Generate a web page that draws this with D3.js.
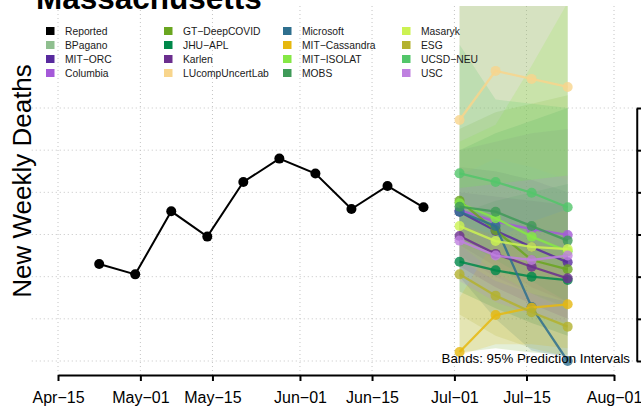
<!DOCTYPE html>
<html><head><meta charset="utf-8">
<script src="https://cdn.jsdelivr.net/npm/d3@7"></script>
<style>
body{margin:0;background:#fff}
svg{display:block}
text{font-family:"Liberation Sans",Arial,Helvetica,sans-serif}
</style>
</head><body>
<svg id="chart" width="641" height="413"></svg>
<script>
// ---------- data ----------
const reportedDates = ["2022-04-23","2022-04-30","2022-05-07","2022-05-14","2022-05-21","2022-05-28","2022-06-04","2022-06-11","2022-06-18","2022-06-25"];
const reportedValues = [46.0, 41.1, 71.0, 59.0, 84.9, 96.0, 88.9, 72.1, 83.0, 72.9];

const forecastDates = ["2022-07-02","2022-07-09","2022-07-16","2022-07-23"];

const modelNames = ["BPagano","MIT\u2212ORC","Columbia","GT\u2212DeepCOVID","JHU\u2212APL","Karlen","LUcompUncertLab","Microsoft","MIT\u2212Cassandra","MIT\u2212ISOLAT","MOBS","Masaryk","ESG","UCSD\u2212NEU","USC"];
const modelColors = ["#8FBF8F","#582A9E","#A559D9","#6AA620","#00884A","#6B2E8E","#F8D58C","#2E6F8E","#E6B80F","#85E845","#3F9A58","#CCF252","#B3B22F","#52C66A","#BF80E0"];

// point forecasts (median), one list per model in modelNames order
const forecastMedian = [
  [],
  [70.8, 61.8, 54.1, 46.8],
  [71.6, 66.1, 62.5, 59.8],
  [76.0, 62.0, 47.9, 43.5],
  [47.1, 43.0, 40.0, 38.4],
  [59.3, 50.8, 44.7, 39.2],
  [114.3, 137.6, 133.8, 130.0],
  [70.8, 64.0, 25.6, 0.0],
  [4.3, 21.8, 25.3, 26.9],
  [74.8, 67.7, 59.0, 52.0],
  [73.2, 70.8, 64.0, 57.1],
  [64.0, 56.9, 54.1, 53.1],
  [41.1, 31.0, 23.1, 16.3],
  [89.0, 84.9, 79.8, 72.9],
  [57.1, 50.0, 47.9, 50.0]
];
// 95% prediction interval bounds
const forecastLower = [
  [],
  [55, 45, 35, 28],
  [50, 40, 32, 25],
  [4, 6, 4, 3],
  [33, 25, 18, 12],
  [45, 35, 27, 20],
  [88, 96, 92, 86],
  [40, 20, 5, 1.5],
  [2.8, 8, 8, 6],
  [55, 42, 32, 24],
  [58, 48, 38, 28],
  [48, 38, 32, 28],
  [22, 12, 6, 2],
  [66, 58, 50, 42],
  [38, 28, 22, 18]
];
const forecastUpper = [
  [],
  [92, 90, 86, 80],
  [100, 104, 108, 110],
  [110, 118, 122, 126],
  [70, 76, 80, 84],
  [80, 78, 76, 74],
  [170, 170, 170, 170],
  [170, 170, 170, 170],
  [30, 58, 66, 72],
  [104, 112, 140, 170],
  [100, 108, 114, 120],
  [170, 170, 170, 170],
  [64, 60, 56, 52],
  [150, 124, 122, 120],
  [82, 84, 86, 88]
];

const xTickDates = ["2022-04-15","2022-05-01","2022-05-15","2022-06-01","2022-06-15","2022-07-01","2022-07-15","2022-08-01"];
const xTickLabels = ["Apr\u221215","May\u221201","May\u221215","Jun\u221201","Jun\u221215","Jul\u221201","Jul\u221215","Aug\u221201"];
const yTickValues = [0, 20, 40, 60, 80, 100, 120];

const legendNames = ["Reported"].concat(modelNames);
const legendColors = ["#000000"].concat(modelColors);

const titleText = "Massachusetts";
const yLabelText = "New Weekly Deaths";
const noteText = "Bands: 95% Prediction Intervals";

// ---------- layout ----------
const svg = d3.select("#chart");
const parse = d3.utcParse("%Y-%m-%d");

const x = d3.scaleUtc()
  .domain([parse(xTickDates[0]), parse(xTickDates[xTickDates.length-1])])
  .range([58, 614]);
const y = d3.scaleLinear().domain([0, 120]).range([361, 108]);

const span = 614 - 58;
const plotLeft = 58 - 0.04 * span, plotRight = 614 + 0.04 * span;
const plotTop = 6, plotBottom = 375;

svg.append("defs").append("clipPath").attr("id","plotclip")
  .append("rect").attr("x", plotLeft).attr("y", plotTop)
  .attr("width", plotRight - plotLeft).attr("height", plotBottom - plotTop);

// grid
const grid = svg.append("g").attr("stroke","#c4c4c4").attr("stroke-width",1).attr("stroke-dasharray","1,3");
grid.selectAll("line.v").data(xTickDates).join("line")
  .attr("x1", d => x(parse(d))).attr("x2", d => x(parse(d)))
  .attr("y1", plotTop).attr("y2", plotBottom);
grid.selectAll("line.h").data(yTickValues).join("line")
  .attr("x1", plotLeft - 4).attr("x2", plotRight)
  .attr("y1", d => y(d)).attr("y2", d => y(d));

// bands
const fDates = forecastDates.map(parse);
const area = d3.area()
  .x((d,i) => x(fDates[i]))
  .y0(d => y(d[0])).y1(d => y(d[1]));
const bandG = svg.append("g").attr("clip-path","url(#plotclip)");
modelNames.forEach((m, k) => {
  if (!forecastLower[k].length) return;
  const pts = forecastLower[k].map((lo, i) => [lo, forecastUpper[k][i]]);
  bandG.append("path").attr("d", area(pts))
    .attr("fill", modelColors[k]).attr("fill-opacity", 0.18).attr("stroke","none");
});

// reported
const line = d3.line().x(d => x(d[0])).y(d => y(d[1]));
const rep = reportedDates.map((d,i) => [parse(d), reportedValues[i]]);
svg.append("path").attr("d", line(rep)).attr("fill","none").attr("stroke","#000").attr("stroke-width",2);
svg.append("g").selectAll("circle").data(rep).join("circle")
  .attr("cx", d => x(d[0])).attr("cy", d => y(d[1])).attr("r", 5).attr("fill","#000");

// forecasts
const fg = svg.append("g").attr("clip-path","url(#plotclip)");
modelNames.forEach((m, k) => {
  if (!forecastMedian[k].length) return;
  const pts = forecastMedian[k].map((v,i) => [fDates[i], v]);
  fg.append("path").attr("d", line(pts)).attr("fill","none")
    .attr("stroke", modelColors[k]).attr("stroke-width", 2.3).attr("stroke-opacity", 0.85);
  fg.append("g").selectAll("circle").data(pts).join("circle")
    .attr("cx", d => x(d[0])).attr("cy", d => y(d[1])).attr("r", 5)
    .attr("fill", modelColors[k]).attr("fill-opacity", 0.8);
});

// x axis
const xAxis = d3.axisBottom(x)
  .tickValues(xTickDates.map(parse))
  .tickFormat((d,i) => xTickLabels[i])
  .tickSize(6).tickSizeOuter(0);
const gx = svg.append("g").attr("transform", `translate(0,${plotBottom})`).call(xAxis);
gx.select(".domain").attr("stroke","#000").attr("stroke-width",2);
gx.selectAll(".tick line").attr("stroke","#000").attr("stroke-width",2);
gx.selectAll(".tick text").attr("y", 28).attr("dy", 0)
  .attr("font-size", 16).attr("fill","#000")
  .style("font-family", '"Liberation Sans",Arial,sans-serif');

// right y axis (its labels fall outside the picture)
const yAxis = d3.axisRight(y).tickValues(yTickValues).tickFormat("").tickSize(8).tickSizeOuter(0);
const gy = svg.append("g").attr("transform", `translate(${plotRight + 0.5},0)`).call(yAxis);
gy.select(".domain").attr("stroke","#000").attr("stroke-width",2);
gy.selectAll(".tick line").attr("stroke","#000").attr("stroke-width",2);

// note
svg.append("text").attr("x", 630).attr("y", 363).attr("text-anchor","end")
  .attr("font-size", 13.3).attr("fill","#000").text(noteText);

// legend
const colX = [46, 164, 283, 402];
const rowY = [31, 45, 59, 73];
const lg = svg.append("g");
legendNames.forEach((n, i) => {
  const c = Math.floor(i / 4), r = i % 4;
  lg.append("rect").attr("x", colX[c]).attr("y", rowY[r] - 4).attr("width", 8.5).attr("height", 8)
    .attr("fill", legendColors[i]);
  lg.append("text").attr("x", colX[c] + 19).attr("y", rowY[r] + 3.7)
    .attr("font-size", 10.3).attr("fill","#1a1a1a").text(n);
});

// title (cut by the top edge, as in the source figure)
svg.append("text").attr("x", 36).attr("y", 8.5).attr("font-size", 31.5)
  .attr("font-weight","bold").attr("fill","#000").text(titleText);

// y label
svg.append("text").attr("transform","translate(31,181) rotate(-90)")
  .attr("text-anchor","middle").attr("font-size", 26).attr("fill","#000").text(yLabelText);
</script>
</body></html>
